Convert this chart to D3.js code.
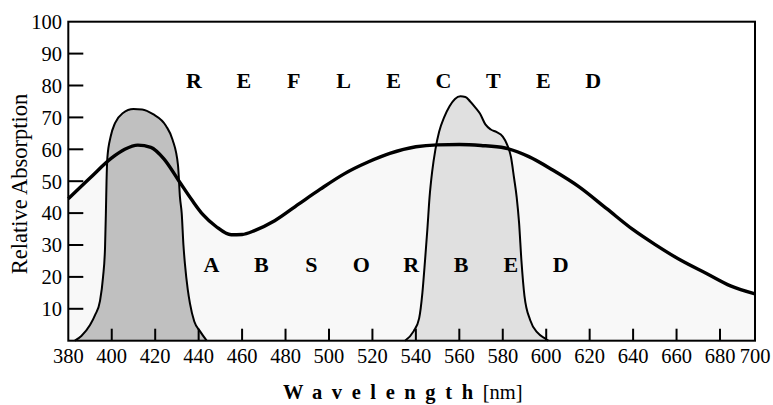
<!DOCTYPE html>
<html>
<head>
<meta charset="utf-8">
<script src="https://cdn.jsdelivr.net/npm/d3@7"></script>
<style>
body { margin: 0; background: #fff; }
text { font-family: "Liberation Serif", "Times New Roman", serif; fill: #000; }
</style>
</head>
<body>
<script>
// broad absorption curve [nm, value]
var absorption = [[380,44.5],[390,51],[400,57.3],[406,60],[412,61.3],[418,60.6],[424,57],[431,50],[437,44],[442,39.5],
    [448,35.8],[455,33.2],[460,33.3],[466,34.6],[475,37.6],[486,42.8],[496,47.5],[507,52.3],[518,56],[528,58.7],
    [540,60.8],[550,61.4],[560,61.5],[570,61.2],[581,60.4],[592,57.7],[603,53.5],[615,48.3],[628,41.3],[640,34.8],
    [650,30.2],[662,25.2],[674,21],[686,17.2],[700,14.7]];
// dark band (violet/blue)
var bandBlue = [[383,0],[386,1.5],[390,4.9],[392.3,8],[394.6,12.5],[396,20],[396.9,29],[397.3,40],[397.6,50],[398,57.5],
    [399.5,64],[401.5,68.2],[405,71.3],[410,72.6],[414,72.5],[419,71],[425,67.3],[428,63],[430.5,55],[431.4,45],
    [432.2,40],[433,30],[433.7,24],[435,16],[436,11.7],[438,6],[440.6,3],[443.7,0]];
// light band (green)
var bandGreen = [[535,0],[539,3],[541.5,7],[543,15],[544.2,25],[545.3,35],[546.3,45],[547.5,53],[549,60],[550.7,65.5],
    [553,70],[555.5,73.5],[558,75.8],[560.5,76.6],[562.8,76.4],[565,75],[567.5,73],[569.5,71.2],[572,67.8],[574.5,66.2],
    [577.2,65.4],[580,64],[582,61.5],[583.8,57.5],[585.2,51],[586.4,45],[587.5,37],[588.6,25],[590,14],[592.6,6.5],
    [596,2.5],[599.5,0.7],[601,0]];
var xTickLabels = [380,400,420,440,460,480,500,520,540,560,580,600,620,640,660,680,700];
var xTickMarks = [400,420,440,460,480,500,520,540,560,580,600,620,640,660,680];
var yTickLabels = [10,20,30,40,50,60,70,80,90,100];
var yTickMarks = [10,20,30,40,50,60,70,80,90];
var reflected = ["R","E","F","L","E","C","T","E","D"];
var absorbed = ["A","B","S","O","R","B","E","D"];

var W = 773, H = 405;
var L = 68.3, R = 755, T = 21.7, B = 340.7;

var svg = d3.select("body").append("svg").attr("width", W).attr("height", H);

// axis is squeezed between 680 and 700 in the original
var x = d3.scaleLinear().domain([380, 680, 700]).range([L, 720, R]);
var y = d3.scaleLinear().domain([0, 100]).range([B, T]);

var area = d3.area()
    .x(function (d) { return x(d[0]); })
    .y0(y(0))
    .y1(function (d) { return y(d[1]); })
    .curve(d3.curveMonotoneX);
var line = d3.line()
    .x(function (d) { return x(d[0]); })
    .y(function (d) { return y(d[1]); })
    .curve(d3.curveMonotoneX);

svg.append("path").datum(absorption)
    .attr("d", area)
    .attr("fill", "#f8f8f8");

svg.append("path").datum(bandBlue)
    .attr("d", line)
    .attr("fill", "#c0c0c0")
    .attr("stroke", "#000")
    .attr("stroke-width", 2);

svg.append("path").datum(bandGreen)
    .attr("d", line)
    .attr("fill", "#e0e0e0")
    .attr("stroke", "#000")
    .attr("stroke-width", 2);

svg.append("path").datum(absorption)
    .attr("d", line)
    .attr("fill", "none")
    .attr("stroke", "#000")
    .attr("stroke-width", 3.4);

// frame
svg.append("rect")
    .attr("x", L).attr("y", T)
    .attr("width", R - L).attr("height", B - T)
    .attr("fill", "none")
    .attr("stroke", "#000")
    .attr("stroke-width", 2);

svg.selectAll("ytick").data(yTickMarks).enter().append("line")
    .attr("x1", L).attr("x2", L + 15)
    .attr("y1", function (d) { return y(d); })
    .attr("y2", function (d) { return y(d); })
    .attr("stroke", "#000").attr("stroke-width", 2);

svg.selectAll("xtick").data(xTickMarks).enter().append("line")
    .attr("x1", function (d) { return x(d); })
    .attr("x2", function (d) { return x(d); })
    .attr("y1", B).attr("y2", B - 12)
    .attr("stroke", "#000").attr("stroke-width", 2);

svg.selectAll("ylabel").data(yTickLabels).enter().append("text")
    .text(function (d) { return d; })
    .attr("x", 62)
    .attr("y", function (d) { return y(d) + 7.3; })
    .attr("text-anchor", "end")
    .attr("font-size", "20.5px");

svg.selectAll("xlabel").data(xTickLabels).enter().append("text")
    .text(function (d) { return d; })
    .attr("x", function (d) { return x(d); })
    .attr("y", 363)
    .attr("text-anchor", "middle")
    .attr("font-size", "20.5px");

svg.append("text")
    .text("Relative Absorption")
    .attr("transform", "translate(27," + 184 + ") rotate(-90)")
    .attr("text-anchor", "middle")
    .attr("font-size", "22.5px");

var title = svg.append("text")
    .attr("x", 283)
    .attr("y", 399)
    .attr("font-size", "20.5px");
title.append("tspan")
    .text("Wavelength")
    .attr("font-weight", "bold")
    .attr("letter-spacing", "9.6px");
title.append("tspan")
    .text("[nm]");

svg.selectAll("refl").data(reflected).enter().append("text")
    .text(function (d) { return d; })
    .attr("x", function (d, i) { return 194 + i * 49.9; })
    .attr("y", 87.5)
    .attr("text-anchor", "middle")
    .attr("font-weight", "bold")
    .attr("font-size", "22px");

svg.selectAll("abs").data(absorbed).enter().append("text")
    .text(function (d) { return d; })
    .attr("x", function (d, i) { return 211.5 + i * 49.9; })
    .attr("y", 272)
    .attr("text-anchor", "middle")
    .attr("font-weight", "bold")
    .attr("font-size", "22px");
</script>
</body>
</html>
